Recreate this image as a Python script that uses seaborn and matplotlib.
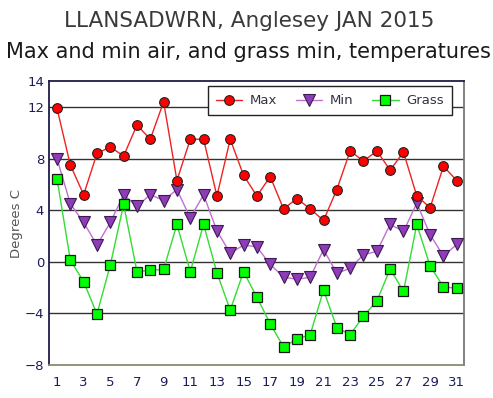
import matplotlib
matplotlib.use("Agg")
import matplotlib.pyplot as plt
import pandas as pd
import seaborn as sns

days = list(range(1, 32))
max_temp = [11.9, 7.5, 5.2, 8.4, 8.9, 8.2, 10.6, 9.5, 12.4, 6.3,
            9.5, 9.5, 5.1, 9.5, 6.7, 5.1, 6.6, 4.1, 4.9, 4.1,
            3.2, 5.6, 8.6, 7.8, 8.6, 7.1, 8.5, 5.1, 4.2, 7.4, 6.3]
min_temp = [8.0, 4.5, 3.05, 1.3, 3.05, 5.2, 4.3, 5.2, 4.75, 5.6,
            3.4, 5.2, 2.4, 0.65, 1.3, 1.15, -0.2, -1.2, -1.35, -1.2,
            0.95, -0.9, -0.5, 0.55, 0.8, 2.9, 2.35, 4.55, 2.1, 0.45, 1.35]
grass_temp = [6.45, 0.13, -1.55, -4.05, -0.25, 4.45, -0.77, -0.66, -0.59, 2.9,
              -0.77, 2.9, -0.85, -3.75, -0.77, -2.75, -4.8, -6.6, -6.0, -5.65,
              -2.2, -5.1, -5.65, -4.2, -3.05, -0.55, -2.3, 2.9, -0.33, -1.95, -2.05]
x_ticks = list(range(1, 32, 2))
y_ticks = [-8, -4, 0, 4, 8, 12, 14]

df = pd.DataFrame({"Day": days, "Max": max_temp, "Min": min_temp, "Grass": grass_temp})

sns.set_style("white")
plt.rcParams["font.family"] = ["DejaVu Sans"]

fig = plt.figure(figsize=(4.93, 3.98), dpi=100)
ax = fig.add_axes([0.0994, 0.083, 0.842, 0.713])

for y in [-4, 0, 4, 8, 12]:
    ax.axhline(y, color="#333333", linewidth=1.0, zorder=1)

sns.lineplot(data=df, x="Day", y="Min", ax=ax, color="#c070d0", linewidth=1.0,
             marker="v", markersize=8, markerfacecolor="#8e3cb8",
             markeredgecolor="#3a1a50", markeredgewidth=0.8, label="Min", zorder=3)
sns.lineplot(data=df, x="Day", y="Grass", ax=ax, color="#33dd33", linewidth=1.0,
             marker="s", markersize=7, markerfacecolor="#00ff00",
             markeredgecolor="#1a1a1a", markeredgewidth=0.9, label="Grass", zorder=4)
sns.lineplot(data=df, x="Day", y="Max", ax=ax, color="#ee2222", linewidth=1.0,
             marker="o", markersize=7, markerfacecolor="#ff0000",
             markeredgecolor="#222222", markeredgewidth=0.8, label="Max", zorder=5)

ax.set_xlim(0.4, 31.55)
ax.set_ylim(-8, 14)
ax.set_xticks(x_ticks)
ax.set_yticks(y_ticks)
ax.tick_params(axis="both", length=0, labelsize=9.5, labelcolor="#1c1c5c")
ax.tick_params(axis="x", pad=8)
ax.set_xlabel("")
ax.set_ylabel("Degrees C", fontsize=9.5, color="#555555", labelpad=1)

for side in ["left", "top"]:
    ax.spines[side].set_color("#1c1c4c")
ax.spines["bottom"].set_color("#8a8a70")
ax.spines["right"].set_color("#777777")
for sp in ax.spines.values():
    sp.set_linewidth(1.3)

handles, labels = ax.get_legend_handles_labels()
order = [labels.index(n) for n in ["Max", "Min", "Grass"]]
leg = ax.legend([handles[i] for i in order], [labels[i] for i in order],
                loc="upper right", bbox_to_anchor=(0.971, 0.982), ncol=3,
                fontsize=9.5, frameon=True, fancybox=False, framealpha=1,
                edgecolor="#222222", handlelength=2.0, columnspacing=1.4,
                handletextpad=0.6, borderpad=0.6, borderaxespad=0)
for t in leg.get_texts():
    t.set_color("#333344")
leg.get_frame().set_linewidth(1.0)

fig.text(0.505, 0.947, "LLANSADWRN, Anglesey JAN 2015", ha="center", va="center",
         fontsize=15.5, color="#3a3a3a")
fig.text(0.503, 0.870, "Max and min air, and grass min, temperatures", ha="center",
         va="center", fontsize=15, color="#1a1a1a")

fig.savefig("out.png", dpi=100)
